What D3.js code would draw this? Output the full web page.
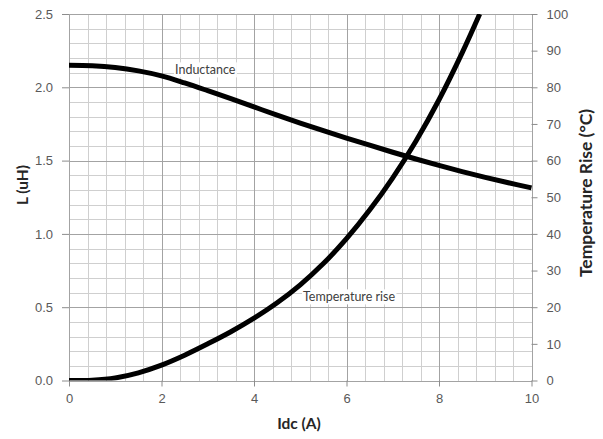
<!DOCTYPE html>
<meta charset="utf-8">
<style>
body { margin: 0; background: #fff; }
svg { font-family: Lato, "Open Sans", sans-serif; }
.tick text { fill: #595959; font-size: 13px; }
.axis path { display: none; }
.axis line { stroke: #8c8c8c; }
.minor line { stroke: #cfcfcf; shape-rendering: crispEdges; }
.major line { stroke: #a3a3a3; shape-rendering: crispEdges; }
.curve { fill: none; stroke: #000; stroke-width: 5px; stroke-linejoin: round; }
.title { font-weight: bold; font-size: 15.5px; fill: #262626; }
.label { font-size: 12.5px; fill: #404040; }
</style>
<svg width="603" height="439"></svg>
<script src="https://d3js.org/d3.v7.min.js"></script>
<script>

// inductance vs current
var idcL = [0, 0.5, 1, 1.5, 2, 2.5, 3, 3.5, 4, 4.5, 5, 5.5, 6, 6.5, 7, 7.5, 8, 8.5, 9, 9.5, 10];
var inductance = [2.15, 2.147, 2.135, 2.112, 2.078, 2.03, 1.977, 1.922, 1.866, 1.81, 1.756, 1.704, 1.654, 1.605, 1.557, 1.511, 1.467, 1.425, 1.386, 1.349, 1.314];

// temperature rise vs current
var idcT = [0, 0.5, 1, 1.5, 2, 2.5, 3, 3.5, 4, 4.5, 5, 5.5, 6, 6.5, 7, 7.5, 8, 8.5, 8.88];
var tempRise = [0, 0.1, 0.7, 2.1, 4.2, 6.9, 10, 13.3, 17, 21.2, 26.1, 31.9, 38.7, 46.5, 55.3, 65.3, 76.6, 89.4, 100];

var xTicks = [0, 2, 4, 6, 8, 10];
var yTicks = [0, 0.5, 1.0, 1.5, 2.0, 2.5];
var y2Ticks = [0, 10, 20, 30, 40, 50, 60, 70, 80, 90, 100];
var xMinor = d3.range(0, 10.001, 0.4);
var yMinor = d3.range(0, 2.5001, 0.1);

var svg = d3.select("svg"),
    pLeft = 69, pRight = 531.5, pTop = 14, pBottom = 380.5;

var x = d3.scaleLinear().domain([0, 10]).range([pLeft, pRight]);
var y = d3.scaleLinear().domain([0, 2.5]).range([pBottom, pTop]);
var y2 = d3.scaleLinear().domain([0, 100]).range([pBottom, pTop]);

// grid
svg.append("g").attr("class", "minor")
  .selectAll("line").data(xMinor).enter().append("line")
  .attr("x1", function(d) { return Math.round(x(d)) + 0.5; })
  .attr("x2", function(d) { return Math.round(x(d)) + 0.5; })
  .attr("y1", pTop).attr("y2", pBottom);
svg.append("g").attr("class", "minor")
  .selectAll("line").data(yMinor).enter().append("line")
  .attr("y1", function(d) { return Math.round(y(d)) + 0.5; })
  .attr("y2", function(d) { return Math.round(y(d)) + 0.5; })
  .attr("x1", pLeft).attr("x2", pRight);
svg.append("g").attr("class", "major")
  .selectAll("line").data(xTicks).enter().append("line")
  .attr("x1", function(d) { return Math.round(x(d)) + 0.5; })
  .attr("x2", function(d) { return Math.round(x(d)) + 0.5; })
  .attr("y1", pTop).attr("y2", pBottom);
svg.append("g").attr("class", "major")
  .selectAll("line").data(yTicks).enter().append("line")
  .attr("y1", function(d) { return Math.round(y(d)) + 0.5; })
  .attr("y2", function(d) { return Math.round(y(d)) + 0.5; })
  .attr("x1", pLeft).attr("x2", pRight);

// axes
svg.append("g").attr("class", "axis")
  .attr("transform", "translate(0," + pBottom + ")")
  .call(d3.axisBottom(x).tickValues(xTicks).tickSize(6).tickPadding(7).tickFormat(d3.format("d")));
svg.append("g").attr("class", "axis")
  .attr("transform", "translate(" + pLeft + ",0)")
  .call(d3.axisLeft(y).tickValues(yTicks).tickSize(7).tickPadding(9).tickFormat(d3.format(".1f")));
svg.append("g").attr("class", "axis")
  .attr("transform", "translate(" + pRight + ",0)")
  .call(d3.axisRight(y2).tickValues(y2Ticks).tickSize(6).tickPadding(9).tickFormat(d3.format("d")));

// labels with white boxes
function label(txt, cx, cy) {
  var g = svg.append("g");
  var t = g.append("text").attr("class", "label")
    .attr("x", cx).attr("y", cy).attr("dy", "0.35em").text(txt);
  var b = t.node().getBBox();
  g.insert("rect", "text").attr("x", b.x - 1).attr("y", b.y).attr("width", b.width + 2)
    .attr("height", b.height).attr("fill", "#fff");
}
label("Inductance", 175, 70);
label("Temperature rise", 303, 297);

// curves
var lineL = d3.line()
  .x(function(d, i) { return x(idcL[i]); })
  .y(function(d) { return y(d); })
  .curve(d3.curveCatmullRom.alpha(0.5));
var lineT = d3.line()
  .x(function(d, i) { return x(idcT[i]); })
  .y(function(d) { return y2(d); })
  .curve(d3.curveCatmullRom.alpha(0.5));

svg.append("clipPath").attr("id", "clip")
  .append("rect").attr("x", pLeft).attr("y", pTop).attr("width", pRight - pLeft).attr("height", pBottom - pTop);

svg.append("path").attr("class", "curve").attr("d", lineL(inductance));
svg.append("path").attr("class", "curve").attr("clip-path", "url(#clip)").attr("d", lineT(tempRise));

// titles
svg.append("text").attr("class", "title").attr("text-anchor", "middle")
  .attr("x", 299).attr("y", 429).text("Idc (A)");
svg.append("text").attr("class", "title").attr("text-anchor", "middle")
  .attr("transform", "translate(28,185) rotate(-90)").text("L (uH)");
svg.append("text").attr("class", "title").attr("text-anchor", "middle")
  .attr("transform", "translate(592,193) rotate(-90)")
  .attr("textLength", 168).attr("lengthAdjust", "spacingAndGlyphs")
  .style("font-size", "17px")
  .text("Temperature Rise (°C)");

</script>
